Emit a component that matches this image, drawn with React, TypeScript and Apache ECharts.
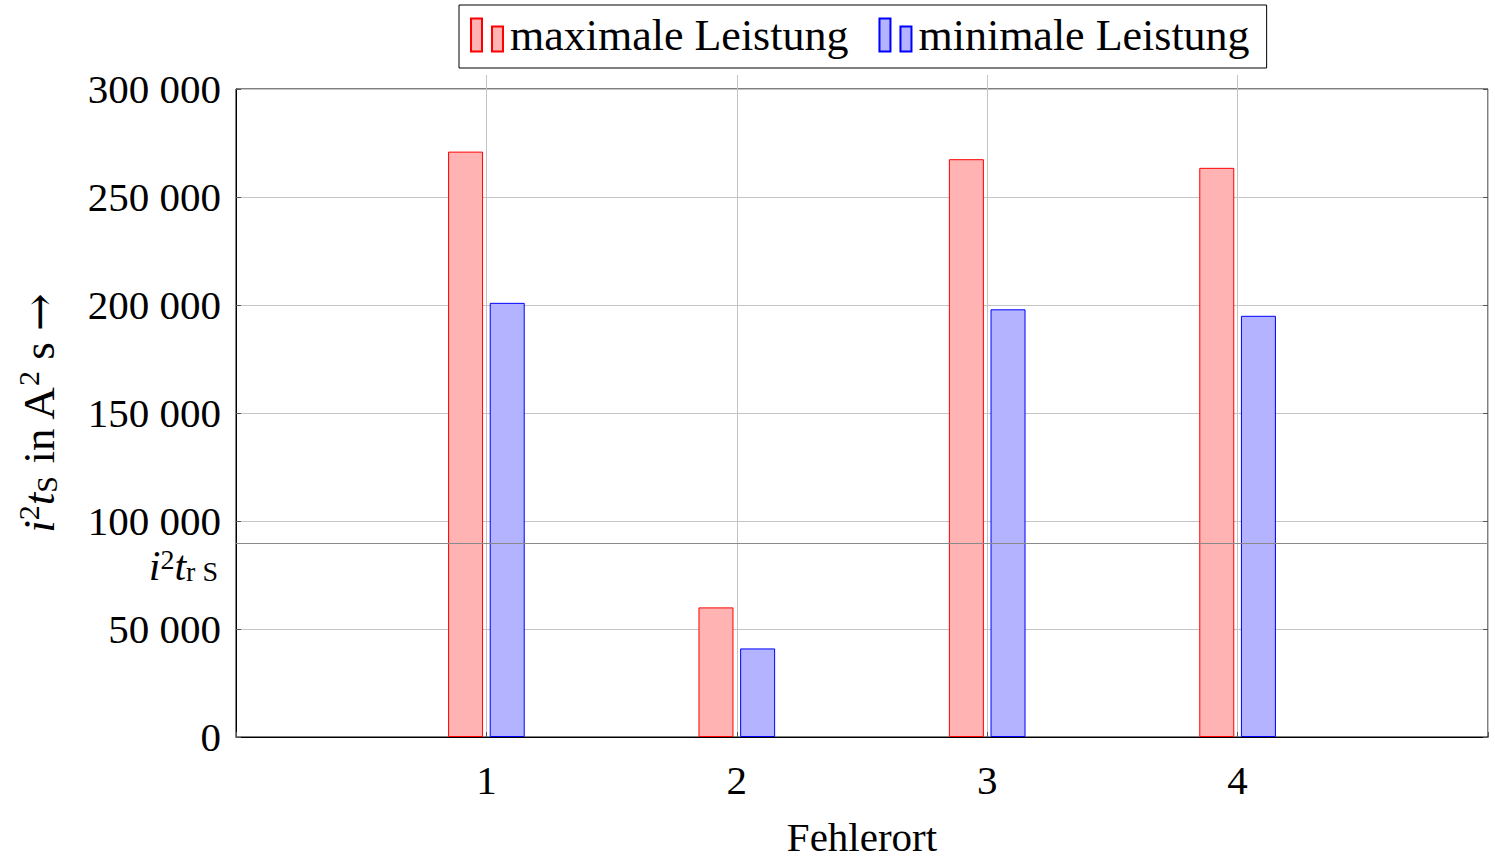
import React, { useEffect, useRef } from "react";
import * as echarts from "echarts";

const positions = [1, 2, 3, 4];
const maxPower = [271000, 60000, 267500, 263500];
const minPower = [201000, 41000, 198000, 195000];
const referenceValue = 89600;
const seriesNames = ["maximale Leistung", "minimale Leistung"];
const xTickLabels = ["1", "2", "3", "4"];

const FONT = "'Liberation Serif', 'Times New Roman', serif";

const fmt = (v: number) =>
  String(Math.round(v)).replace(/\B(?=(\d{3})+(?!\d))/g, " ");

export default function App() {
  const ref = useRef<HTMLDivElement>(null);
  useEffect(() => {
    if (!ref.current) return;
    const chart = echarts.init(ref.current, null, { renderer: "svg" });
    const gridLeft = 236;
    const gridRight = 7;
    const plotW = 1495 - gridLeft - gridRight;
    const unit = plotW / 5;
    const mkRich = (size: number, small: number, lh: number, up: number, down: number) => ({
      i: { fontFamily: FONT, fontStyle: "italic", fontSize: size, lineHeight: lh, color: "#000", verticalAlign: "middle" },
      n: { fontFamily: FONT, fontSize: size, lineHeight: lh, color: "#000", verticalAlign: "middle" },
      ar: { fontFamily: "'DejaVu Serif', serif", fontSize: size, lineHeight: lh, color: "#000", verticalAlign: "middle" },
      sup: {
        fontFamily: FONT,
        fontSize: small,
        lineHeight: small,
        padding: [0, 0, Math.round(small * up), 0],
        color: "#000",
        verticalAlign: "middle",
      },
      sub: {
        fontFamily: FONT,
        fontSize: small,
        lineHeight: small,
        padding: [Math.round(small * down), 0, 0, 0],
        color: "#000",
        verticalAlign: "middle",
      },
    });
    const icon = "path://M0,0h11v33h-11z M21,8h11v25h-11z";
    chart.setOption({
      animation: false,
      backgroundColor: "#fff",
      textStyle: { fontFamily: FONT },
      legend: {
        left: 459,
        top: 5,
        padding: [8, 17, 11, 11],
        borderColor: "#000",
        borderWidth: 1,
        itemWidth: 32,
        itemHeight: 33,
        itemGap: 30,
        data: [
          { name: seriesNames[0], icon },
          { name: seriesNames[1], icon },
        ],
        textStyle: { fontFamily: FONT, fontSize: 44, color: "#000", padding: [14, 0, 0, 2] },
      },
      grid: [
        {
          left: gridLeft,
          right: gridRight,
          top: 89,
          height: 656,
          show: true,
          borderColor: "#000",
          borderWidth: 1,
          backgroundColor: "transparent",
        },
        {
          left: gridLeft + unit,
          right: gridRight + unit,
          top: 75,
          height: 14,
          show: false,
        },
      ],
      xAxis: [
        {
          type: "value",
          gridIndex: 0,
          min: 0,
          max: 5,
          interval: 1,
          name: "Fehlerort",
          nameLocation: "middle",
          nameGap: 79,
          nameTextStyle: { fontFamily: FONT, fontSize: 41, color: "#000" },
          axisLine: { show: true, lineStyle: { color: "#000", width: 1 } },
          axisTick: { show: true, inside: true, length: 5, lineStyle: { color: "#555" } },
          axisLabel: {
            fontFamily: FONT,
            fontSize: 41,
            color: "#000",
            margin: 22,
            formatter: (v: number) => {
              const idx = positions.indexOf(v);
              return idx >= 0 ? xTickLabels[idx] : "";
            },
          },
          splitLine: { show: true, lineStyle: { color: "#c4c4c4", width: 1 } },
        },
        {
          type: "value",
          gridIndex: 1,
          min: positions[0],
          max: positions[positions.length - 1],
          interval: 1,
          axisLine: { show: false },
          axisTick: { show: false },
          axisLabel: { show: false },
          splitLine: { show: true, lineStyle: { color: "#c4c4c4", width: 1 } },
        },
      ],
      yAxis: [
        {
          type: "value",
          gridIndex: 0,
          min: 0,
          max: 300000,
          interval: 50000,
          name: "{i|i}{sup|2}{i|t}{sub|S}{n| in A}{sup|2}{n| s }{ar|→}",
          nameLocation: "middle",
          nameRotate: 90,
          nameGap: 172,
          nameTextStyle: { rich: mkRich(45, 30, 50, 0.7, 0.45) },
          axisLine: { show: true, lineStyle: { color: "#000", width: 1 } },
          axisTick: { show: true, inside: true, length: 5, lineStyle: { color: "#555" } },
          axisLabel: {
            fontFamily: FONT,
            fontSize: 41,
            color: "#000",
            margin: 15,
            formatter: (v: number) => fmt(v),
          },
          splitLine: { show: true, lineStyle: { color: "#c4c4c4", width: 1 } },
        },
        {
          type: "value",
          gridIndex: 0,
          position: "right",
          min: 0,
          max: 300000,
          interval: 50000,
          axisLine: { show: false },
          axisTick: { show: true, inside: true, length: 5, lineStyle: { color: "#555" } },
          axisLabel: { show: false },
          splitLine: { show: false },
        },
        { type: "value", gridIndex: 1, show: false, min: 0, max: 1 },
      ],
      series: [
        {
          name: seriesNames[0],
          type: "bar",
          xAxisIndex: 0,
          yAxisIndex: 0,
          barWidth: 35,
          barGap: "19%",
          data: positions.map((x, i) => [x, maxPower[i]]),
          itemStyle: { color: "#ffb3b3", borderColor: "#ff0000", borderWidth: 1 },
          z: 3,
          markLine: {
            silent: true,
            symbol: ["none", "none"],
            lineStyle: { color: "#8a8a8a", type: "solid", width: 1 },
            label: {
              show: true,
              position: "start",
              distance: 18,
              offset: [0, 23],
              formatter: "{i|i}{sup|2}{i|t}{sub|r S}",
              rich: mkRich(42, 28, 36, 0.5, 0.4),
            },
            data: [{ yAxis: referenceValue }],
          },
        },
        {
          name: seriesNames[1],
          type: "bar",
          xAxisIndex: 0,
          yAxisIndex: 0,
          barWidth: 35,
          barGap: "19%",
          data: positions.map((x, i) => [x, minPower[i]]),
          itemStyle: { color: "#b3b3ff", borderColor: "#0000ff", borderWidth: 1 },
          z: 3,
        },
      ],
    });
    return () => chart.dispose();
  }, []);
  return (
    <div
      ref={ref}
      style={{ position: "fixed", left: 0, top: 0, width: 1495, height: 862, background: "#fff" }}
    />
  );
}
